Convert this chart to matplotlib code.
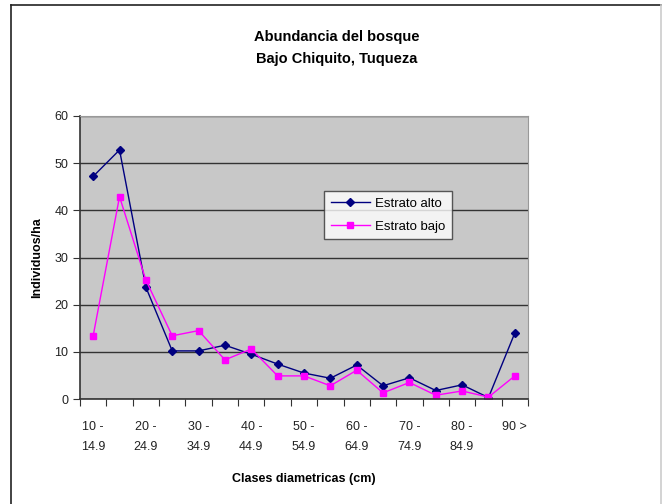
import matplotlib.pyplot as plt
from matplotlib.lines import Line2D

plt.rcParams['font.family'] = ['Liberation Sans', 'DejaVu Sans']

clases = ["10 -\n14.9", "15 -\n19.9", "20 -\n24.9", "25 -\n29.9", "30 -\n34.9",
          "35 -\n39.9", "40 -\n44.9", "45 -\n49.9", "50 -\n54.9", "55 -\n59.9",
          "60 -\n64.9", "65 -\n69.9", "70 -\n74.9", "75 -\n79.9", "80 -\n84.9",
          "85 -\n89.9", "90 >"]
estrato_alto = [47.2, 52.8, 23.7, 10.2, 10.2, 11.4, 9.5, 7.4, 5.5, 4.4,
                7.2, 2.8, 4.5, 1.8, 3.0, 0.3, 14.0]
estrato_bajo = [13.4, 42.9, 25.2, 13.4, 14.5, 8.3, 10.6, 4.9, 4.9, 2.8,
                6.1, 1.3, 3.5, 0.8, 1.7, 0.4, 4.9]

W, H = 663, 504
fig = plt.figure(figsize=(W / 100, H / 100), dpi=100)
fig.patch.set_facecolor("white")

# marco exterior
fig.add_artist(Line2D([11 / W, 11 / W], [0, 1 - 5 / H], transform=fig.transFigure, color="#222222", lw=1.2))
fig.add_artist(Line2D([11 / W, 661 / W], [1 - 5 / H, 1 - 5 / H], transform=fig.transFigure, color="#222222", lw=1.2))
fig.add_artist(Line2D([661 / W, 661 / W], [0, 1 - 5 / H], transform=fig.transFigure, color="#cccccc", lw=1.2))

left, right, top, bottom = 80, 528, 116, 399
ax = fig.add_axes([left / W, 1 - bottom / H, (right - left) / W, (bottom - top) / H])
ax.set_facecolor("#c8c8c8")

x = list(range(len(clases)))
ax.plot(x, estrato_alto, color="#000080", marker="D", markersize=4.5, lw=1, label="Estrato alto")
ax.plot(x, estrato_bajo, color="#ff00ff", marker="s", markersize=4.5, lw=1, label="Estrato bajo")

ax.set_xlim(-0.5, len(clases) - 0.5)
ax.set_ylim(0, 60)
ax.set_yticks(range(0, 61, 10))
ax.yaxis.grid(True, color="#333333", lw=1)
ax.set_axisbelow(True)

ax.set_xticks([i - 0.5 for i in range(len(clases) + 1)], minor=False)
ax.set_xticklabels([])
ax.set_xticks(x[::2], minor=True)
ax.set_xticklabels(clases[::2], minor=True, fontsize=9, color="#222222", linespacing=1.9)
ax.tick_params(axis="x", which="minor", length=0, pad=16)
ax.tick_params(axis="x", which="major", length=5, direction="out", color="#333333")
ax.tick_params(axis="y", length=5, direction="out", color="#333333", labelsize=9, labelcolor="#222222")

for s in ["top", "right"]:
    ax.spines[s].set_color("#999999")
for s in ["left", "bottom"]:
    ax.spines[s].set_color("#333333")
    ax.spines[s].set_linewidth(1.2)

ax.set_ylabel("Individuos/ha", fontsize=9, fontweight="bold", labelpad=8)
ax.set_xlabel("Clases diametricas (cm)", fontsize=9, fontweight="bold", labelpad=14)

fig.text(337 / W, 1 - 48 / H, "Abundancia del bosque\nBajo Chiquito, Tuqueza",
         ha="center", va="center", fontsize=10.5, fontweight="bold", linespacing=1.7)

leg = ax.legend(loc="upper left", bbox_to_anchor=((324 - left) / (right - left), 1 - (191 - top) / (bottom - top)),
                fontsize=9.5, frameon=True, fancybox=False, edgecolor="#333333",
                handlelength=3, borderpad=0.5, labelspacing=0.8, borderaxespad=0, handletextpad=0.4,
                markerscale=0.9)
leg.get_frame().set_linewidth(1)

fig.savefig("out.png", dpi=100)
